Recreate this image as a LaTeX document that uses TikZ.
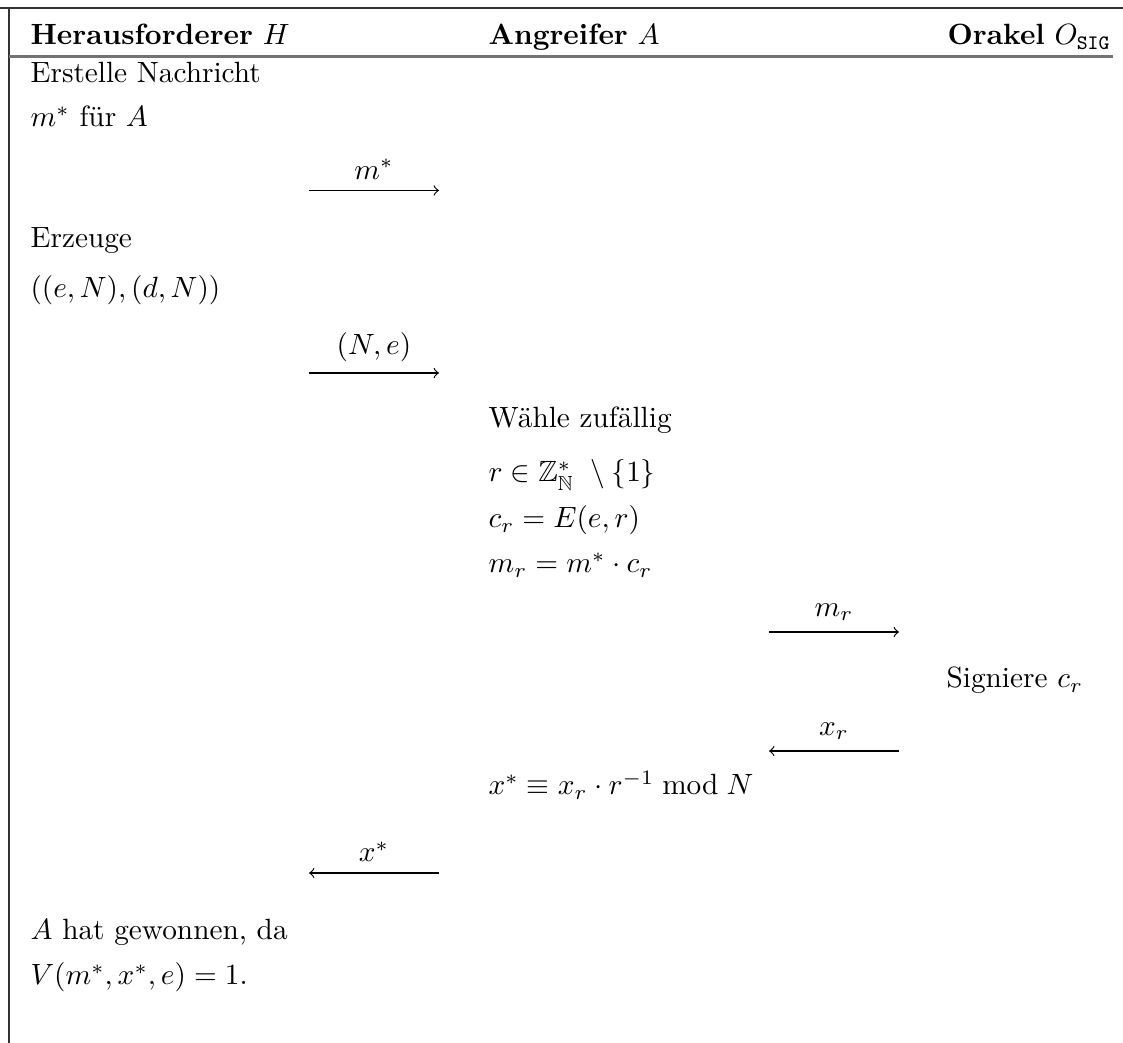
\documentclass[tikz,border=0pt]{standalone}
\usepackage{amssymb}
\usetikzlibrary{calc}

\begin{document}
\begin{tikzpicture}[scale=0.75,
  txt/.style={anchor=base west, inner sep=0pt},
  msg/.style={->, line width=0.4pt},
  lbl/.style={midway, above=3.6pt, inner sep=0pt}]
\useasboundingbox (0,0) rectangle (17.968,-16.688);
% frame and header
\draw[black!80, line width=0.4pt] (0,-0.128) -- (17.968,-0.128);
\draw[black!80, line width=0.4pt] (0.144,-0.128) -- (0.144,-16.688);
\draw[black!55, line width=0.7pt] (0.144,-0.904) -- (17.808,-0.904);
\node[txt] (H) at (0.48,-0.72) {\textbf{Herausforderer} $H$};
\node[txt] (A) at (7.808,-0.72) {\textbf{Angreifer} $A$};
\node[txt] (O) at (15.152,-0.72) {\textbf{Orakel} $O_{\mathtt{SIG}}$};
% Herausforderer
\node[txt] (h1) at (0.48,-1.328) {Erstelle Nachricht};
\node[txt] (h2) at (0.48,-2.032) {$m^*$ für $A$};
\node[txt] (h3) at (0.48,-3.968) {Erzeuge};
\node[txt] (h4) at (0.48,-4.76) {$((e,N),(d,N))$};
\node[txt] (h5) at (0.48,-15.04) {$A$ hat gewonnen, da};
\node[txt] (h6) at (0.48,-15.76) {$V(m^*,x^*,e)=1.$};
% Angreifer
\node[txt] (a1) at (7.808,-6.848) {Wähle zufällig};
\node[txt] (a2) at (7.808,-7.712) {$r \in \mathbb{Z}^*_{\mathbb{N}}\ \setminus \{1\}$};
\node[txt] (a3) at (7.808,-8.443) {$c_r = E(e,r)$};
\node[txt] (a4) at (7.808,-9.163) {$m_r = m^* \cdot c_r$};
\node[txt] (a5) at (7.808,-12.72) {$x^* \equiv x_r \cdot r^{-1} \bmod N$};
% Orakel
\node[txt] (o1) at (15.136,-11.008) {Signiere $c_r$};
% messages
\coordinate (m1l) at (4.944,-3.048); \coordinate (m1r) at (7.024,-3.048);
\coordinate (m2l) at (4.944,-5.968); \coordinate (m2r) at (7.024,-5.968);
\coordinate (m3l) at (12.304,-10.112); \coordinate (m3r) at (14.384,-10.112);
\coordinate (m4l) at (12.304,-12.016); \coordinate (m4r) at (14.384,-12.016);
\coordinate (m5l) at (4.944,-13.968); \coordinate (m5r) at (7.024,-13.968);
\draw[msg] (m1l) -- (m1r) node[lbl] (l1) {$m^*$};
\draw[msg] (m2l) -- (m2r) node[lbl] (l2) {$(N,e)$};
\draw[msg] (m3l) -- (m3r) node[lbl] (l3) {$m_r$};
\draw[msg] (m4r) -- (m4l) node[lbl] (l4) {$x_r$};
\draw[msg] (m5r) -- (m5l) node[lbl] (l5) {$x^*$};
\end{tikzpicture}
\end{document}
